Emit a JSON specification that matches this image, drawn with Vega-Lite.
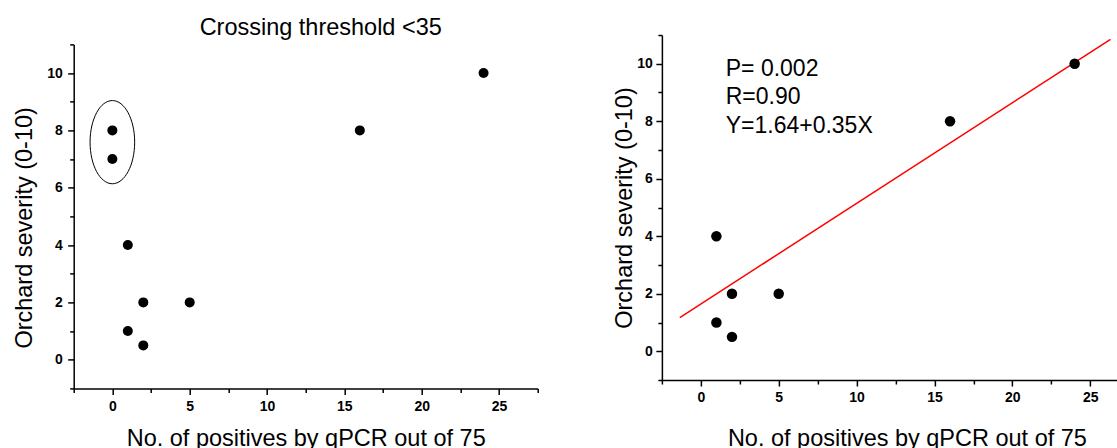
{
  "$schema": "https://vega.github.io/schema/vega-lite/v6.json",
  "background": "white",
  "padding": {"left": 11.7, "top": 15, "right": 0, "bottom": 0},
  "spacing": 73.2,
  "title": {"text": "Crossing threshold <35", "anchor": "start", "dx": 187, "offset": -11, "fontSize": 23.5, "font": "Liberation Sans", "fontWeight": "normal", "color": "black"},
  "config": {
    "view": {"stroke": null},
    "font": "Liberation Sans",
    "axis": {
      "grid": false,
      "domainColor": "black",
      "domainWidth": 1.5,
      "tickColor": "black",
      "tickWidth": 1.5,
      "tickCount": 100,
      "labelOverlap": false,
      "labelFlush": false,
      "labelFont": "Liberation Sans",
      "labelFontWeight": "bold",
      "labelFontSize": 14,
      "labelColor": "black",
      "titleFont": "Liberation Sans",
      "titleFontSize": 23.5,
      "titleFontWeight": "normal",
      "titleColor": "black"
    }
  },
  "datasets": {
    "left": [
      {"positives": 0, "severity": 8},
      {"positives": 0, "severity": 7},
      {"positives": 1, "severity": 4},
      {"positives": 1, "severity": 1},
      {"positives": 2, "severity": 2},
      {"positives": 2, "severity": 0.5},
      {"positives": 5, "severity": 2},
      {"positives": 16, "severity": 8},
      {"positives": 24, "severity": 10}
    ],
    "right": [
      {"positives": 1, "severity": 4},
      {"positives": 1, "severity": 1},
      {"positives": 2, "severity": 2},
      {"positives": 2, "severity": 0.5},
      {"positives": 5, "severity": 2},
      {"positives": 16, "severity": 8},
      {"positives": 24, "severity": 10}
    ],
    "fit": [
      {"positives": -1.35, "severity": 1.17},
      {"positives": 26.3, "severity": 10.85}
    ],
    "stats": [
      {"positives": 1.6, "severity": 9.59, "label": "P= 0.002"},
      {"positives": 1.6, "severity": 8.61, "label": "R=0.90"},
      {"positives": 1.6, "severity": 7.6, "label": "Y=1.64+0.35X"}
    ],
    "group": [
      {"positives": 0, "severity": 7.59}
    ],
    "empty": []
  },
  "hconcat": [
    {
      "spacing": 1.4,
      "vconcat": [
        {
          "width": 464,
          "height": 1,
          "data": {"name": "empty"},
          "mark": {"type": "point", "opacity": 0}
        },
        {
          "width": 464,
          "height": 344,
          "layer": [
            {
              "data": {"name": "left"},
              "mark": {"type": "point", "filled": true, "color": "black", "opacity": 1, "size": 100},
              "encoding": {
                "x": {
                  "field": "positives", "type": "quantitative",
                  "scale": {"domain": [-2.5, 27.5], "nice": false, "zero": false},
                  "axis": {
                    "title": "No. of positives by qPCR out of 75",
                    "values": [-2.5, 0, 2.5, 5, 7.5, 10, 12.5, 15, 17.5, 20, 22.5, 25, 27.5],
                    "labelExpr": "datum.value % 5 === 0 ? format(datum.value, 'd') : ''",
                    "tickSize": {"condition": {"test": "datum.value % 5 === 0", "value": 6}, "value": 4},
                    "labelPadding": 5,
                    "titlePadding": 13.6
                  }
                },
                "y": {
                  "field": "severity", "type": "quantitative",
                  "scale": {"domain": [-1, 11], "nice": false, "zero": false},
                  "axis": {
                    "title": "Orchard severity (0-10)",
                    "values": [-1, 0, 1, 2, 3, 4, 5, 6, 7, 8, 9, 10, 11],
                    "labelExpr": "datum.value % 2 === 0 && datum.value >= 0 && datum.value <= 10 ? format(datum.value, 'd') : ''",
                    "tickSize": {"condition": {"test": "datum.value % 2 === 0 && datum.value >= 0 && datum.value <= 10", "value": 6}, "value": 4},
                    "labelPadding": 5.5,
                    "titlePadding": 10,
                    "titleY": 183
                  }
                }
              }
            },
            {
              "data": {"name": "group"},
              "mark": {
                "type": "point",
                "shape": "M0,-1C0.2961,-1,0.536,-0.5523,0.536,0C0.536,0.5523,0.2961,1,0,1C-0.2961,1,-0.536,0.5523,-0.536,0C-0.536,-0.5523,-0.2961,-1,0,-1Z",
                "filled": false,
                "stroke": "black",
                "strokeWidth": 1,
                "opacity": 1,
                "size": 6922
              },
              "encoding": {
                "x": {"field": "positives", "type": "quantitative"},
                "y": {"field": "severity", "type": "quantitative"}
              }
            }
          ]
        }
      ]
    },
    {
      "width": 457,
      "height": 345,
      "layer": [
        {
          "data": {"name": "fit"},
          "mark": {"type": "line", "color": "#ff0000", "strokeWidth": 1.5},
          "encoding": {
            "x": {"field": "positives", "type": "quantitative"},
            "y": {"field": "severity", "type": "quantitative"}
          }
        },
        {
          "data": {"name": "right"},
          "mark": {"type": "point", "filled": true, "color": "black", "opacity": 1, "size": 110},
          "encoding": {
            "x": {
              "field": "positives", "type": "quantitative",
              "scale": {"domain": [-2.5, 26.84], "nice": false, "zero": false},
              "axis": {
                "title": "No. of positives by qPCR out of 75",
                "values": [-2.5, 0, 2.5, 5, 7.5, 10, 12.5, 15, 17.5, 20, 22.5, 25],
                "labelExpr": "datum.value % 5 === 0 ? format(datum.value, 'd') : ''",
                "tickSize": {"condition": {"test": "datum.value % 5 === 0", "value": 6}, "value": 4},
                "labelPadding": 4.7,
                "titlePadding": 21.9,
                "titleX": 245
              }
            },
            "y": {
              "field": "severity", "type": "quantitative",
              "scale": {"domain": [-1, 11], "nice": false, "zero": false},
              "axis": {
                "title": "Orchard severity (0-10)",
                "values": [-1, 0, 1, 2, 3, 4, 5, 6, 7, 8, 9, 10, 11],
                "labelExpr": "datum.value % 2 === 0 && datum.value >= 0 && datum.value <= 10 ? format(datum.value, 'd') : ''",
                "tickSize": {"condition": {"test": "datum.value % 2 === 0 && datum.value >= 0 && datum.value <= 10", "value": 6}, "value": 4},
                "labelPadding": 3.5,
                "titlePadding": 0.5
              }
            }
          }
        },
        {
          "data": {"name": "stats"},
          "mark": {"type": "text", "align": "left", "baseline": "alphabetic", "fontSize": 23, "font": "Liberation Sans", "color": "black"},
          "encoding": {
            "x": {"field": "positives", "type": "quantitative"},
            "y": {"field": "severity", "type": "quantitative"},
            "text": {"field": "label"}
          }
        }
      ]
    }
  ]
}
